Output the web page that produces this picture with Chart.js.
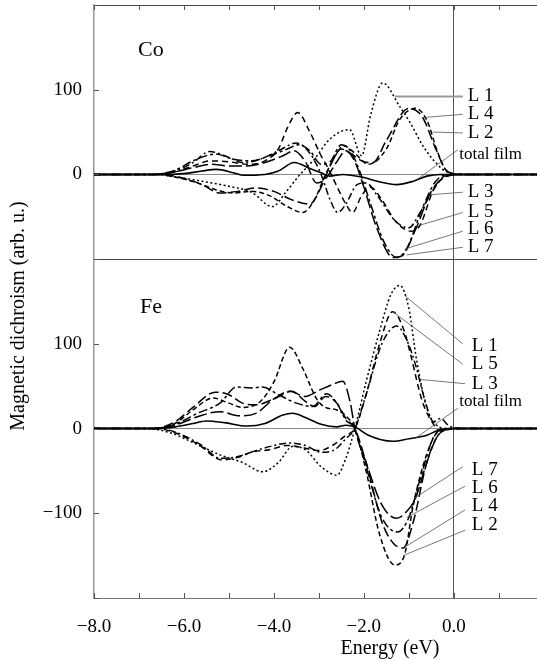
<!DOCTYPE html>
<html>
<head>
<meta charset="utf-8">
<script src="https://cdn.jsdelivr.net/npm/chart.js@4/dist/chart.umd.min.js"></script>
<style>
  html,body{margin:0;padding:0;background:#fff;}
  #wrap{width:537px;height:660px;position:relative;}
</style>
</head>
<body>
<div id="wrap"><canvas id="c"></canvas></div>
<script>
'use strict';

/* ---- data: [energy (eV), dichroism (arb. u.)] ---- */
// Co panel
var coTotal=[[-8,0],[-6.5,0],[-6.0,1],[-5.6,4],[-5.28,6],[-4.9,2],[-4.7,-1],[-4.2,0],[-3.9,4],[-3.55,14],[-3.2,7],[-2.95,2],[-2.76,-2],[-2.47,0],[-2.05,-3],[-1.7,-8],[-1.27,-12],[-0.9,-8],[-0.6,-2],[-0.3,0],[1.85,0]];
var coL1=[[-8,0],[-6.6,0],[-6.2,-3],[-5.6,-8],[-5.0,-14],[-4.5,-21],[-4.03,-38],[-3.75,-22],[-3.45,-2],[-3.1,18],[-2.75,42],[-2.32,53],[-2.05,22],[-1.85,70],[-1.58,108],[-1.2,80],[-0.98,62],[-0.7,35],[-0.47,18],[-0.16,3],[0.2,0],[1.85,0]];
var coL2=[[-8,0],[-6.6,0],[-6.2,-3],[-5.7,-10],[-5.3,-18],[-4.9,-22],[-4.5,-20],[-4.1,-25],[-3.7,-38],[-3.36,-45],[-3.1,-30],[-2.85,0],[-2.6,25],[-2.45,34],[-2.2,25],[-1.9,12],[-1.5,30],[-1.2,65],[-0.85,78],[-0.6,64],[-0.35,25],[-0.15,4],[0.2,0],[1.85,0]];
var coL3=[[-8,0],[-6.7,0],[-6.2,4],[-5.8,14],[-5.43,27],[-5.0,20],[-4.7,14],[-4.3,18],[-3.9,28],[-3.5,37],[-3.2,25],[-2.95,0],[-2.75,-30],[-2.58,-45],[-2.4,-35],[-2.15,-12],[-1.95,-10],[-1.7,-25],[-1.3,-55],[-1.0,-63],[-0.75,-45],[-0.5,-22],[-0.2,-2],[0.2,0],[1.85,0]];
var coL4=[[-8,0],[-6.6,0],[-6.2,-2],[-5.6,-12],[-5.2,-22],[-4.8,-20],[-4.4,-16],[-4.0,-20],[-3.6,-30],[-3.2,-35],[-2.95,-15],[-2.75,10],[-2.5,30],[-2.3,25],[-2.0,15],[-1.8,14],[-1.5,40],[-1.0,78],[-0.7,68],[-0.4,30],[-0.15,4],[0.2,0],[1.85,0]];
var coL5=[[-8,0],[-6.7,0],[-6.2,3],[-5.8,10],[-5.4,16],[-5.0,15],[-4.6,12],[-4.2,16],[-3.9,30],[-3.7,55],[-3.47,73],[-3.2,50],[-2.95,22],[-2.8,8],[-2.6,-14],[-2.4,-35],[-2.25,-45],[-2.05,-25],[-1.85,-15],[-1.6,-30],[-1.3,-55],[-0.95,-67],[-0.75,-60],[-0.45,-18],[-0.15,-2],[0.2,0],[1.85,0]];
var coL6=[[-8,0],[-6.7,0],[-6.2,5],[-5.8,16],[-5.3,24],[-4.9,18],[-4.5,16],[-4.1,22],[-3.7,30],[-3.45,35],[-3.2,28],[-2.95,12],[-2.75,15],[-2.5,35],[-2.3,28],[-2.1,5],[-1.85,-35],[-1.55,-80],[-1.27,-98],[-1.05,-88],[-0.7,-40],[-0.4,-8],[-0.1,0],[0.2,0],[1.85,0]];
var coL7=[[-8,0],[-6.7,0],[-6.2,3],[-5.8,8],[-5.4,12],[-5.0,10],[-4.6,10],[-4.2,14],[-3.8,22],[-3.55,28],[-3.3,15],[-3.05,-10],[-2.85,-5],[-2.6,15],[-2.4,28],[-2.2,15],[-2.0,-15],[-1.7,-65],[-1.35,-98],[-1.15,-96],[-0.85,-65],[-0.5,-20],[-0.15,-2],[0.2,0],[1.85,0]];
// Fe panel
var feTotal=[[-8,0],[-6.6,0],[-6.2,2],[-5.8,6],[-5.5,9],[-5.1,7],[-4.6,3],[-4.2,6],[-3.8,16],[-3.58,18],[-3.3,13],[-2.95,5],[-2.6,2],[-2.4,4],[-2.2,2],[-1.9,-8],[-1.36,-15],[-1.0,-12],[-0.6,-8],[-0.35,-2],[0,0],[1.85,0]];
var feL1=[[-8,0],[-6.8,0],[-6.3,-5],[-5.9,-14],[-5.5,-24],[-5.15,-32],[-4.7,-40],[-4.25,-51],[-3.9,-40],[-3.58,-21],[-3.3,-25],[-2.95,-45],[-2.6,-55],[-2.4,-35],[-2.2,0],[-1.95,55],[-1.65,115],[-1.4,158],[-1.2,169],[-1.0,142],[-0.83,82],[-0.6,24],[-0.4,5],[-0.15,0],[0.2,0],[1.85,0]];
var feL2=[[-8,0],[-6.7,0],[-6.2,6],[-5.8,22],[-5.35,36],[-5.0,30],[-4.7,25],[-4.3,32],[-4.0,55],[-3.65,96],[-3.35,70],[-3.05,35],[-2.85,25],[-2.6,22],[-2.4,15],[-2.2,0],[-1.95,-50],[-1.65,-125],[-1.31,-161],[-1.1,-150],[-0.9,-90],[-0.6,-30],[-0.35,-4],[0,0],[1.85,0]];
var feL3=[[-8,0],[-6.6,0],[-6.2,-4],[-5.6,-20],[-5.2,-35],[-4.8,-33],[-4.4,-26],[-4.0,-20],[-3.65,-17],[-3.3,-20],[-2.95,-28],[-2.65,-25],[-2.4,-12],[-2.2,0],[-1.95,40],[-1.6,100],[-1.27,121],[-1.05,105],[-0.85,75],[-0.65,35],[-0.45,8],[-0.3,12],[-0.1,3],[0.2,0],[1.85,0]];
var feL4=[[-8,0],[-6.7,0],[-6.2,8],[-5.8,25],[-5.3,43],[-5.0,40],[-4.7,30],[-4.4,28],[-4.0,35],[-3.6,44],[-3.3,32],[-3.1,26],[-2.85,38],[-2.6,30],[-2.4,12],[-2.2,0],[-1.95,-40],[-1.6,-110],[-1.35,-135],[-1.13,-141],[-0.9,-110],[-0.6,-40],[-0.35,-8],[0,0],[1.85,0]];
var feL5=[[-8,0],[-6.6,0],[-6.2,-5],[-5.7,-18],[-5.15,-37],[-4.8,-34],[-4.5,-28],[-4.1,-25],[-3.7,-20],[-3.4,-22],[-3.0,-26],[-2.7,-20],[-2.4,-8],[-2.2,0],[-1.95,40],[-1.65,100],[-1.36,138],[-1.1,115],[-0.95,85],[-0.7,32],[-0.45,5],[-0.3,-3],[0,0],[1.85,0]];
var feL6=[[-8,0],[-6.7,0],[-6.2,5],[-5.7,18],[-5.2,30],[-4.83,49],[-4.5,48],[-4.25,49],[-3.9,40],[-3.5,30],[-3.14,26],[-2.83,41],[-2.6,30],[-2.4,10],[-2.2,0],[-1.95,-45],[-1.6,-105],[-1.25,-122],[-1.0,-105],[-0.75,-60],[-0.45,-10],[-0.2,0],[1.85,0]];
var feL7=[[-8,0],[-6.7,0],[-6.2,4],[-5.7,14],[-5.2,20],[-4.77,15],[-4.4,18],[-4.0,35],[-3.65,44],[-3.3,38],[-3.0,45],[-2.7,52],[-2.47,56],[-2.3,30],[-2.2,0],[-1.95,-40],[-1.6,-90],[-1.27,-106],[-1.05,-98],[-0.85,-82],[-0.6,-40],[-0.35,-8],[0,0],[1.85,0]];

// tick labels
var xTickLabels=[-8,-6,-4,-2,0];
var coTickLabels=[100,0,-50];
var feTickLabels=[100,0,-100];

// curve labels: name, point on curve [E,v], leader end [E,v], text position [E,v]
var coNames=['L 1','L 4','L 2','total film','L 3','L 5','L 6','L 7'];
var coAnchor=[[-1.31,92],[-0.71,67],[-0.47,50],[-0.82,-6],[-0.53,-24],[-0.76,-60],[-1.09,-88],[-1.05,-95]];
var coEnd=[[0.2,92],[0.2,71],[0.2,49],[0.09,29],[0.2,-21],[0.2,-45],[0.2,-67],[0.2,-86]];
var coText=[[0.31,92],[0.31,71],[0.31,49],[0.12,23],[0.31,-21],[0.31,-44],[0.31,-65],[0.31,-86]];
var feNames=['L 1','L 5','L 3','total film','L 7','L 6','L 4','L 2'];
var feAnchor=[[-1.09,157],[-1.36,138],[-0.76,58],[-0.87,-12],[-0.87,-82],[-1.05,-105],[-1.09,-140],[-1.13,-150]];
var feEnd=[[0.2,100],[0.2,76],[0.25,53],[0.09,24],[0.2,-45],[0.25,-68],[0.25,-96],[0.25,-120]];
var feText=[[0.4,98],[0.4,76],[0.4,53],[0.12,32],[0.4,-49],[0.4,-70],[0.4,-92],[0.4,-114]];

var DASH={'total film':[],'L 1':[2,2.5],'L 2':[5,3],'L 3':[7,3,2,3],'L 4':[10,4],'L 5':[6,4],'L 6':[9,3,3,3],'L 7':[13,4]};
var SERIF="'Liberation Serif','Times New Roman',serif";

Chart.defaults.font.family=SERIF;

function pts(a){return a.map(function(p){return{x:p[0],y:p[1]};});}
function ds(name,arr,axis){
  return{label:name,data:pts(arr),yAxisID:axis,borderColor:'#000',borderWidth:name==='total film'?1.6:1.5,
    borderDash:DASH[name],pointRadius:0,cubicInterpolationMode:'monotone',fill:false};
}
function minus(v){return v<0?'\u2212'+Math.abs(v):String(v);}

var datasets=[
  ds('L 1',coL1,'yCo'),ds('L 2',coL2,'yCo'),ds('L 3',coL3,'yCo'),ds('L 4',coL4,'yCo'),
  ds('L 5',coL5,'yCo'),ds('L 6',coL6,'yCo'),ds('L 7',coL7,'yCo'),ds('total film',coTotal,'yCo'),
  ds('L 1',feL1,'yFe'),ds('L 2',feL2,'yFe'),ds('L 3',feL3,'yFe'),ds('L 4',feL4,'yFe'),
  ds('L 5',feL5,'yFe'),ds('L 6',feL6,'yFe'),ds('L 7',feL7,'yFe'),ds('total film',feTotal,'yFe')
];

function line(ctx,x1,y1,x2,y2){ctx.beginPath();ctx.moveTo(x1,y1);ctx.lineTo(x2,y2);ctx.stroke();}

var annot={
  id:'annot',
  afterDraw:function(chart){
    var ctx=chart.ctx,a=chart.chartArea,sx=chart.scales.x,sc=chart.scales.yCo,sf=chart.scales.yFe;
    ctx.save();
    // inward ticks
    ctx.strokeStyle='#555';ctx.lineWidth=1;
    sx.ticks.forEach(function(t){var p=Math.round(sx.getPixelForValue(t.value))+0.5;line(ctx,p,a.bottom,p,a.bottom-5);line(ctx,p,a.top,p,a.top+5);});
    [sc,sf].forEach(function(s){s.ticks.forEach(function(t){var p=Math.round(s.getPixelForValue(t.value))+0.5;line(ctx,a.left,p,a.left+5,p);});});
    // curve labels and leaders
    function panel(s,names,anc,end,txt){
      for(var i=0;i<names.length;i++){
        ctx.strokeStyle=(s===sc&&i===0)?'#999':'#555';
        ctx.lineWidth=(s===sc&&i===0)?1.8:0.8;
        line(ctx,sx.getPixelForValue(anc[i][0]),s.getPixelForValue(anc[i][1]),sx.getPixelForValue(end[i][0]),s.getPixelForValue(end[i][1]));
        ctx.fillStyle='#000';ctx.textAlign='left';ctx.textBaseline='middle';
        ctx.font=(names[i]==='total film'?'17px ':'19px ')+SERIF;
        ctx.fillText(names[i],sx.getPixelForValue(txt[i][0]),s.getPixelForValue(txt[i][1]));
      }
    }
    panel(sc,coNames,coAnchor,coEnd,coText);
    panel(sf,feNames,feAnchor,feEnd,feText);
    // panel names
    ctx.font='22px '+SERIF;ctx.textAlign='left';ctx.textBaseline='middle';
    ctx.fillText('Co',138,50);
    ctx.fillText('Fe',140,307);
    // axis titles
    ctx.font='20px '+SERIF;ctx.textAlign='center';
    ctx.fillText('Energy (eV)',390,649);
    ctx.translate(19,316);ctx.rotate(-Math.PI/2);
    ctx.fillText('Magnetic dichroism (arb. u.)',0,0);
    ctx.restore();
  }
};

function yGrid(edges){
  return function(c){
    if(!c.tick)return'rgba(0,0,0,0)';
    if(c.tick.value===0)return'#888';
    if(edges.indexOf(c.tick.value)>=0)return'#444';
    return'rgba(0,0,0,0)';
  };
}
function fitY(s){s.width=94;s.paddingTop=0;s.paddingBottom=0;}

new Chart(document.getElementById('c'),{
  type:'line',
  data:{datasets:datasets},
  plugins:[annot],
  options:{
    responsive:true,maintainAspectRatio:false,animation:false,
    layout:{padding:{top:5,right:0,left:0,bottom:0}},
    plugins:{legend:{display:false},tooltip:{enabled:false}},
    scales:{
      x:{type:'linear',min:-8,max:1.85,
        border:{display:true,color:'#777',width:1},
        grid:{drawTicks:false,lineWidth:1,color:function(c){return c.tick&&c.tick.value===0?'#555':'rgba(0,0,0,0)';}},
        ticks:{stepSize:1,includeBounds:false,autoSkip:false,maxRotation:0,padding:18,color:'#000',font:{size:19},
          callback:function(v){return xTickLabels.indexOf(v)>=0?minus(v.toFixed(1)*1).replace(/^(\u2212?\d+)$/,'$1.0'):'';}},
        afterFit:function(s){s.height=62;s.paddingLeft=0;s.paddingRight=0;}
      },
      yFe:{type:'linear',position:'left',stack:'panels',stackWeight:4,min:-200,max:200,
        border:{display:true,color:'#999',width:1.5},
        grid:{drawTicks:false,lineWidth:1,color:yGrid([])},
        ticks:{stepSize:50,padding:12,color:'#000',font:{size:19},
          callback:function(v){return feTickLabels.indexOf(v)>=0?minus(v):'';}},
        afterFit:fitY
      },
      yCo:{type:'linear',position:'left',stack:'panels',stackWeight:3,min:-100,max:200,
        border:{display:true,color:'#999',width:1.5},
        grid:{drawTicks:false,lineWidth:1,color:yGrid([200,-100])},
        ticks:{stepSize:50,padding:12,color:'#000',font:{size:19},
          callback:function(v){return coTickLabels.indexOf(v)>=0?(v<0?'-'+Math.abs(v):String(v)):'';}},
        afterFit:fitY
      }
    }
  }
});
</script>
</body>
</html>
